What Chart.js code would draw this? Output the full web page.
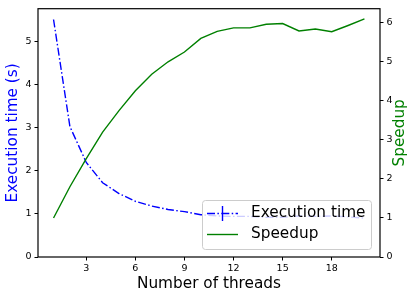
<!DOCTYPE html>
<html>
<head>
<meta charset="utf-8">
<script src="https://cdn.jsdelivr.net/npm/chart.js@4/dist/chart.umd.min.js"></script>
<style>
html,body{margin:0;padding:0;background:#fff}
canvas{display:block}
</style>
</head>
<body>
<canvas id="chart" width="409" height="294"></canvas>
<script>
// values
const threads = [1,2,3,4,5,6,7,8,9,10,11,12,13,14,15,16,17,18,19,20]
const execTime = [5.5,3.02,2.19,1.72,1.47,1.29,1.18,1.10,1.05,0.98,0.95,0.94,0.94,0.92,0.92,0.95,0.94,0.95,0.93,0.90]
const speedup = [1.0,1.8,2.52,3.2,3.75,4.26,4.68,5.0,5.25,5.6,5.78,5.87,5.87,5.96,5.98,5.79,5.84,5.77,5.93,6.1]
const threadTicks = [3,6,9,12,15,18]
const timeTicks = [0,1,2,3,4,5]
const speedupTicks = [0,1,2,3,4,5,6]

const FONT = 'DejaVu Sans'
const BLUE = '#0000ff', GREEN = '#008000'
const DASHDOT = [8,2.4,1.5,2.4]

const pts = arr => threads.map((t,i)=>({x:t, y:arr[i]}))
const fixTicks = list => s => { s.ticks = list.map(v=>({value:v})) }

// frame, axis titles and legend box (matplotlib look)
const decor = {
	id:'decor',
	afterDraw(chart){
		const {ctx, chartArea:a} = chart
		ctx.save()
		ctx.strokeStyle = '#000'; ctx.lineWidth = 1.2
		ctx.strokeRect(a.left, a.top, a.right-a.left, a.bottom-a.top)

		ctx.font = '15.3px "'+FONT+'"'
		ctx.textAlign = 'center'; ctx.textBaseline = 'middle'
		ctx.fillStyle = '#000'
		ctx.fillText('Number of threads', (a.left+a.right)/2, 284)
		ctx.save(); ctx.translate(13, (a.top+a.bottom)/2); ctx.rotate(-Math.PI/2)
		ctx.fillStyle = BLUE; ctx.fillText('Execution time (s)', 0, 0); ctx.restore()
		ctx.save(); ctx.translate(400, (a.top+a.bottom)/2); ctx.rotate(-Math.PI/2)
		ctx.fillStyle = GREEN; ctx.fillText('Speedup', 0, 0); ctx.restore()

		// legend
		const lx = 202, ly = 200, lw = 169, lh = 49
		ctx.beginPath(); ctx.roundRect(lx+0.5, ly+0.5, lw, lh, 3)
		ctx.fillStyle = 'rgba(255,255,255,0.8)'; ctx.fill()
		ctx.strokeStyle = '#cccccc'; ctx.lineWidth = 1; ctx.stroke()
		chart.data.datasets.forEach((ds,i)=>{
			const y = 213.5 + i*21
			ctx.strokeStyle = ds.borderColor; ctx.lineWidth = ds.borderWidth
			ctx.setLineDash(ds.borderDash || [])
			ctx.beginPath(); ctx.moveTo(207,y); ctx.lineTo(238,y); ctx.stroke()
			ctx.setLineDash([])
			if(ds.errorbars){ ctx.beginPath(); ctx.moveTo(222.5,y-7.5); ctx.lineTo(222.5,y+7.5); ctx.stroke() }
			ctx.fillStyle = '#000'; ctx.textAlign = 'left'
			ctx.fillText(ds.label, 251, y)
		})
		ctx.restore()
	}
}

const tickFont = {family: FONT, size: 9.5}
const gridOpts = {drawOnChartArea:false, drawTicks:true, tickLength:3.5, color:'#000'}

new Chart(document.getElementById('chart'), {
	type:'line',
	data:{datasets:[
		{label:'Execution time', data:pts(execTime), yAxisID:'y', borderColor:BLUE, borderWidth:1.4, borderDash:DASHDOT, pointRadius:0, tension:0, order:1, errorbars:true},
		{label:'Speedup', data:pts(speedup), yAxisID:'y2', borderColor:GREEN, borderWidth:1.4, pointRadius:0, tension:0, order:0}
	]},
	options:{
		responsive:false, animation:false, events:[],
		layout:{padding:{top:3, left:0, right:0, bottom:0}},
		plugins:{legend:{display:false}, tooltip:{enabled:false}},
		scales:{
			x:{type:'linear', min:0.05, max:20.95, afterBuildTicks:fixTicks(threadTicks), afterFit(s){ s.height = 37 },
				grid:gridOpts, border:{display:false},
				ticks:{font:tickFont, color:'#000', padding:2, maxRotation:0, autoSkip:false}},
			y:{type:'linear', position:'left', min:0, max:5.75, afterBuildTicks:fixTicks(timeTicks), afterFit(s){ s.width = 38 },
				grid:gridOpts, border:{display:false},
				ticks:{font:tickFont, color:'#000', padding:3}},
			y2:{type:'linear', position:'right', min:0, max:6.36, afterBuildTicks:fixTicks(speedupTicks), afterFit(s){ s.width = 29 },
				grid:gridOpts, border:{display:false},
				ticks:{font:tickFont, color:'#000', padding:3}}
		}
	},
	plugins:[decor]
})
</script>
</body>
</html>
